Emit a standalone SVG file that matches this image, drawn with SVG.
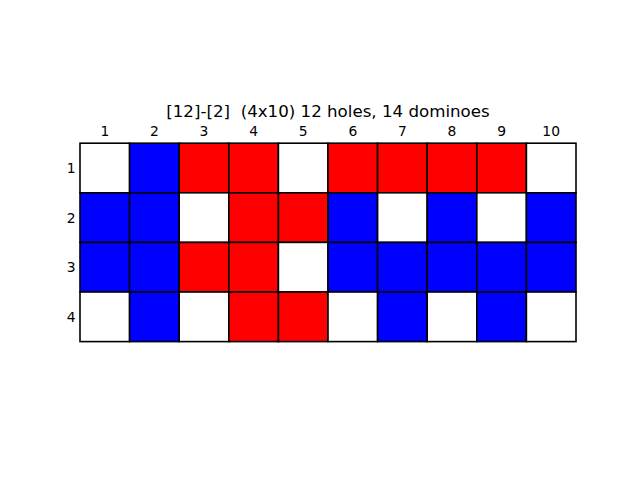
<svg xmlns="http://www.w3.org/2000/svg" width="640" height="480" viewBox="0 0 640 480">
<style>
.c{stroke:#000;stroke-width:1.6}
.w{fill:#fff}.b{fill:#0000ff}.r{fill:#ff0000}
text{font-family:"DejaVu Sans",sans-serif;fill:#000}
.t{font-size:13.89px;text-anchor:middle}
.y{font-size:13.89px;text-anchor:end}
.h{font-size:16.67px;text-anchor:middle;white-space:pre}
</style>
<rect width="640" height="480" fill="#fff"/>
<text class="h" x="328" y="117" xml:space="preserve">[12]-[2]  (4x10) 12 holes, 14 dominoes</text>
<g id="cols">
<text class="t" x="104.8" y="135.5">1</text>
<text class="t" x="154.4" y="135.5">2</text>
<text class="t" x="204" y="135.5">3</text>
<text class="t" x="253.6" y="135.5">4</text>
<text class="t" x="303.2" y="135.5">5</text>
<text class="t" x="352.8" y="135.5">6</text>
<text class="t" x="402.4" y="135.5">7</text>
<text class="t" x="452" y="135.5">8</text>
<text class="t" x="501.6" y="135.5">9</text>
<text class="t" x="551.2" y="135.5">10</text>
</g>
<g id="rows">
<text class="y" x="75.5" y="173">1</text>
<text class="y" x="75.5" y="222.6">2</text>
<text class="y" x="75.5" y="272.2">3</text>
<text class="y" x="75.5" y="321.8">4</text>
</g>
<g id="grid">
<rect class="c w" x="80" y="143.2" width="49.6" height="49.6"/>
<rect class="c b" x="129.6" y="143.2" width="49.6" height="49.6"/>
<rect class="c r" x="179.2" y="143.2" width="49.6" height="49.6"/>
<rect class="c r" x="228.8" y="143.2" width="49.6" height="49.6"/>
<rect class="c w" x="278.4" y="143.2" width="49.6" height="49.6"/>
<rect class="c r" x="328" y="143.2" width="49.6" height="49.6"/>
<rect class="c r" x="377.6" y="143.2" width="49.6" height="49.6"/>
<rect class="c r" x="427.2" y="143.2" width="49.6" height="49.6"/>
<rect class="c r" x="476.8" y="143.2" width="49.6" height="49.6"/>
<rect class="c w" x="526.4" y="143.2" width="49.6" height="49.6"/>

<rect class="c b" x="80" y="192.8" width="49.6" height="49.6"/>
<rect class="c b" x="129.6" y="192.8" width="49.6" height="49.6"/>
<rect class="c w" x="179.2" y="192.8" width="49.6" height="49.6"/>
<rect class="c r" x="228.8" y="192.8" width="49.6" height="49.6"/>
<rect class="c r" x="278.4" y="192.8" width="49.6" height="49.6"/>
<rect class="c b" x="328" y="192.8" width="49.6" height="49.6"/>
<rect class="c w" x="377.6" y="192.8" width="49.6" height="49.6"/>
<rect class="c b" x="427.2" y="192.8" width="49.6" height="49.6"/>
<rect class="c w" x="476.8" y="192.8" width="49.6" height="49.6"/>
<rect class="c b" x="526.4" y="192.8" width="49.6" height="49.6"/>

<rect class="c b" x="80" y="242.4" width="49.6" height="49.6"/>
<rect class="c b" x="129.6" y="242.4" width="49.6" height="49.6"/>
<rect class="c r" x="179.2" y="242.4" width="49.6" height="49.6"/>
<rect class="c r" x="228.8" y="242.4" width="49.6" height="49.6"/>
<rect class="c w" x="278.4" y="242.4" width="49.6" height="49.6"/>
<rect class="c b" x="328" y="242.4" width="49.6" height="49.6"/>
<rect class="c b" x="377.6" y="242.4" width="49.6" height="49.6"/>
<rect class="c b" x="427.2" y="242.4" width="49.6" height="49.6"/>
<rect class="c b" x="476.8" y="242.4" width="49.6" height="49.6"/>
<rect class="c b" x="526.4" y="242.4" width="49.6" height="49.6"/>

<rect class="c w" x="80" y="292" width="49.6" height="49.6"/>
<rect class="c b" x="129.6" y="292" width="49.6" height="49.6"/>
<rect class="c w" x="179.2" y="292" width="49.6" height="49.6"/>
<rect class="c r" x="228.8" y="292" width="49.6" height="49.6"/>
<rect class="c r" x="278.4" y="292" width="49.6" height="49.6"/>
<rect class="c w" x="328" y="292" width="49.6" height="49.6"/>
<rect class="c b" x="377.6" y="292" width="49.6" height="49.6"/>
<rect class="c w" x="427.2" y="292" width="49.6" height="49.6"/>
<rect class="c b" x="476.8" y="292" width="49.6" height="49.6"/>
<rect class="c w" x="526.4" y="292" width="49.6" height="49.6"/>
</g>
</svg>
